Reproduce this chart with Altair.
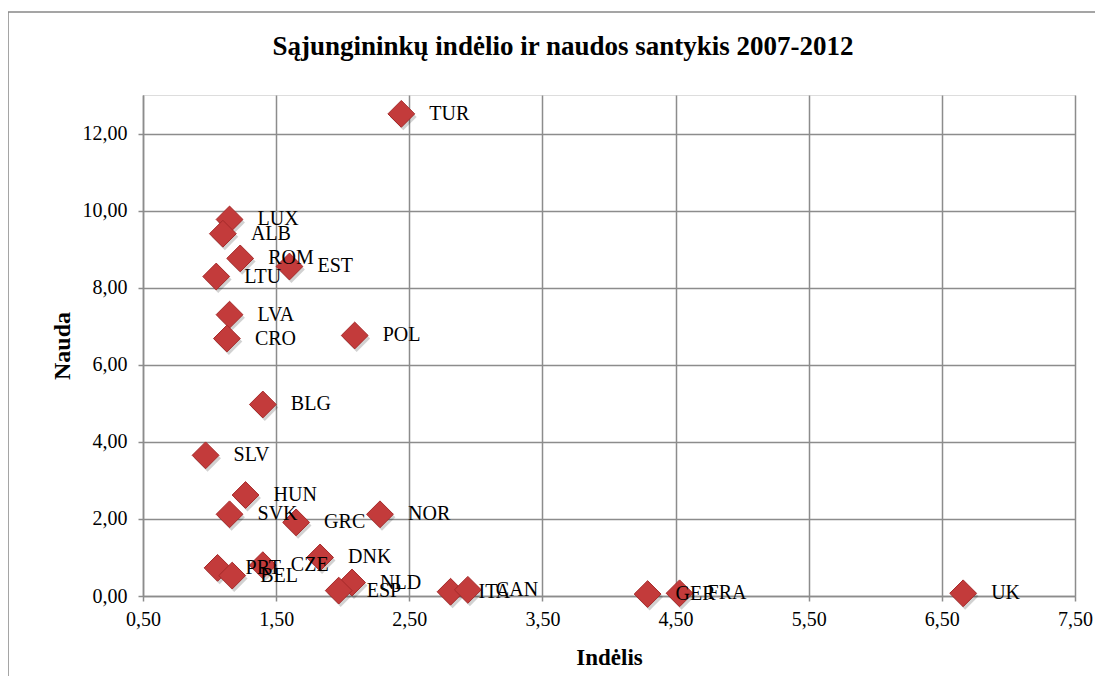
import altair as alt
import pandas as pd

title_text = ["Sąjungininkų indėlio ir naudos santykis 2007-2012"]

countries = ["TUR", "LUX", "ALB", "ROM", "EST", "LTU", "LVA", "CRO", "POL", "BLG",
             "SLV", "HUN", "SVK", "GRC", "NOR", "PRT", "BEL", "CZE", "DNK", "NLD",
             "ESP", "ITA", "CAN", "GER", "FRA", "UK"]
indelis = [2.44, 1.15, 1.10, 1.23, 1.60, 1.05, 1.15, 1.13, 2.09, 1.40,
           0.97, 1.27, 1.15, 1.65, 2.28, 1.06, 1.17, 1.40, 1.83, 2.07,
           1.97, 2.81, 2.94, 4.29, 4.53, 6.66]
nauda = [12.51, 9.77, 9.40, 8.76, 8.55, 8.29, 7.30, 6.68, 6.76, 4.97,
         3.65, 2.62, 2.12, 1.91, 2.12, 0.73, 0.53, 0.80, 1.00, 0.35,
         0.14, 0.11, 0.16, 0.05, 0.07, 0.07]

x_ticks = [0.5, 1.5, 2.5, 3.5, 4.5, 5.5, 6.5, 7.5]
y_ticks = [0, 2, 4, 6, 8, 10, 12]

df = pd.DataFrame({"country": countries, "Indėlis": indelis, "Nauda": nauda})
title_df = pd.DataFrame({"t": title_text})

W, H = 932, 501
FONT = "Liberation Serif"
GRID = "#8c8c8c"

fmt = "replace(format(datum.value, '.2f'), '.', ',')"

x_enc = alt.X("Indėlis:Q",
              scale=alt.Scale(domain=[0.5, 7.5], nice=False, zero=False),
              axis=alt.Axis(values=x_ticks, labelExpr=fmt, title="Indėlis",
                            grid=True, gridColor=GRID, gridWidth=1.5,
                            domainColor=GRID, domainWidth=1.5,
                            tickColor=GRID, tickWidth=1.5, tickSize=5,
                            labelFont=FONT, labelFontSize=20, labelColor="black",
                            labelPadding=8, labelFlush=False,
                            titleFont=FONT, titleFontSize=23, titleFontWeight="bold",
                            titleColor="black", titlePadding=17))
y_enc = alt.Y("Nauda:Q",
              scale=alt.Scale(domain=[0, 13], nice=False),
              axis=alt.Axis(values=y_ticks, labelExpr=fmt, title="Nauda",
                            grid=True, gridColor=GRID, gridWidth=1.5,
                            domainColor=GRID, domainWidth=1.5,
                            tickColor=GRID, tickWidth=1.5, tickSize=5,
                            labelFont=FONT, labelFontSize=20, labelColor="black",
                            labelPadding=11, labelFlush=False,
                            titleFont=FONT, titleFontSize=24, titleFontWeight="bold",
                            titleColor="black", titlePadding=8))

frame = alt.Chart(title_df).mark_rect(fill=None, stroke="#888888", strokeWidth=1.5).encode(
    x=alt.value(-135), x2=alt.value(W + 60), y=alt.value(-83), y2=alt.value(H + 150)
)

title = alt.Chart(title_df).mark_text(align="center", baseline="middle", font=FONT,
                                      fontSize=27, fontWeight="bold", color="black").encode(
    x=alt.value(420), y=alt.value(-48), text="t:N")

shadow = alt.Chart(df).mark_point(shape="diamond", filled=True, size=720,
                                  color="#000000", opacity=0.18,
                                  xOffset=2, yOffset=3).encode(x=x_enc, y=y_enc)

points = alt.Chart(df).mark_point(shape="diamond", filled=True, size=720,
                                  fill="#C33B3B", stroke="#A52A2A", strokeWidth=1,
                                  opacity=1).encode(x=x_enc, y=y_enc)

labels = alt.Chart(df).mark_text(align="left", baseline="middle", dx=28,
                                 font=FONT, fontSize=20, color="black").encode(
    x=x_enc, y=y_enc, text="country:N")

chart = alt.layer(frame, title, shadow, points, labels).properties(
    width=W, height=H,
    autosize=alt.AutoSizeParams(type="none"),
    padding={"left": 135, "top": 87, "right": 20, "bottom": 80},
).configure_view(stroke=None).configure(background="white")

chart.save("out.html", embed_options={"renderer": "svg", "actions": False})
